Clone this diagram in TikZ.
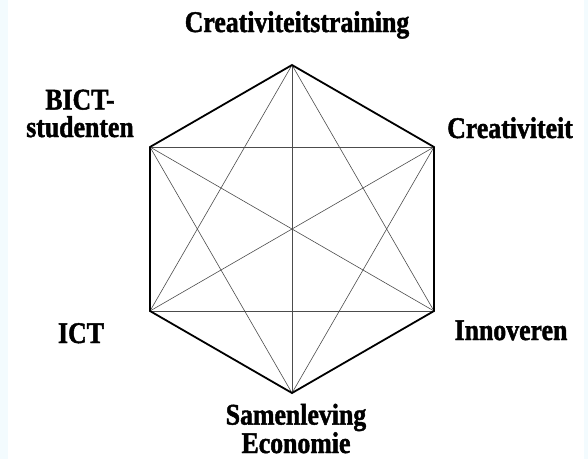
\documentclass[tikz,border=0pt]{standalone}
\usepackage{fontspec}
\newfontfamily\labelfont[FakeStretch=0.86,BoldFeatures={FakeBold=1.5}]{Liberation Serif}
\usetikzlibrary{positioning}
\definecolor{framecyan}{HTML}{F3FBFE}

\begin{document}
\begin{tikzpicture}[
    x=1pt, y=-1pt,
    corner/.style={
        font=\labelfont\bfseries\fontsize{30}{27.5}\selectfont,
        align=center, inner sep=0pt, anchor=base
    },
    rim/.style={draw=black, line width=1.8pt, line join=miter},
    chord/.style={draw=black!70, line width=0.6pt}
]

% achtergrond en randen
\useasboundingbox (0,0) rectangle (588,459);
\fill[framecyan] (0,0) rectangle (8,459);
\fill[framecyan] (584,0) rectangle (588,459);

% hoekpunten van de zeshoek
\coordinate (top) at (292,65);
\coordinate (ur) at (434,147);
\coordinate (lr) at (434,311);
\coordinate (bot) at (292,393);
\coordinate (ll) at (150,311);
\coordinate (ul) at (150,147);

% diagonalen
\foreach \a/\b in {top/lr, top/bot, top/ll, ur/bot, ur/ll, ur/ul,
                   lr/ll, lr/ul, bot/ul, ul/ur, ll/lr}
    \draw[chord] (\a) -- (\b);

% zeshoek
\draw[rim] (top) -- (ur) -- (lr) -- (bot) -- (ll) -- (ul) -- cycle;

% labels (anker op de basislijn van de laatste regel)
\node[corner] (training) at (297,32) {Creativiteitstraining};
\node[corner] (creativiteit) at (510,138) {Creativiteit};
\node[corner] (innoveren) at (511,340) {Innoveren};
\node[corner, font=\labelfont\bfseries\fontsize{30}{26}\selectfont]
    (samenleving) at (296,453) {Samenleving\\Economie};
\node[corner] (ict) at (81,343) {ICT};
\node[corner] (bict) at (80,137) {BICT-\\studenten};

\end{tikzpicture}
\end{document}
